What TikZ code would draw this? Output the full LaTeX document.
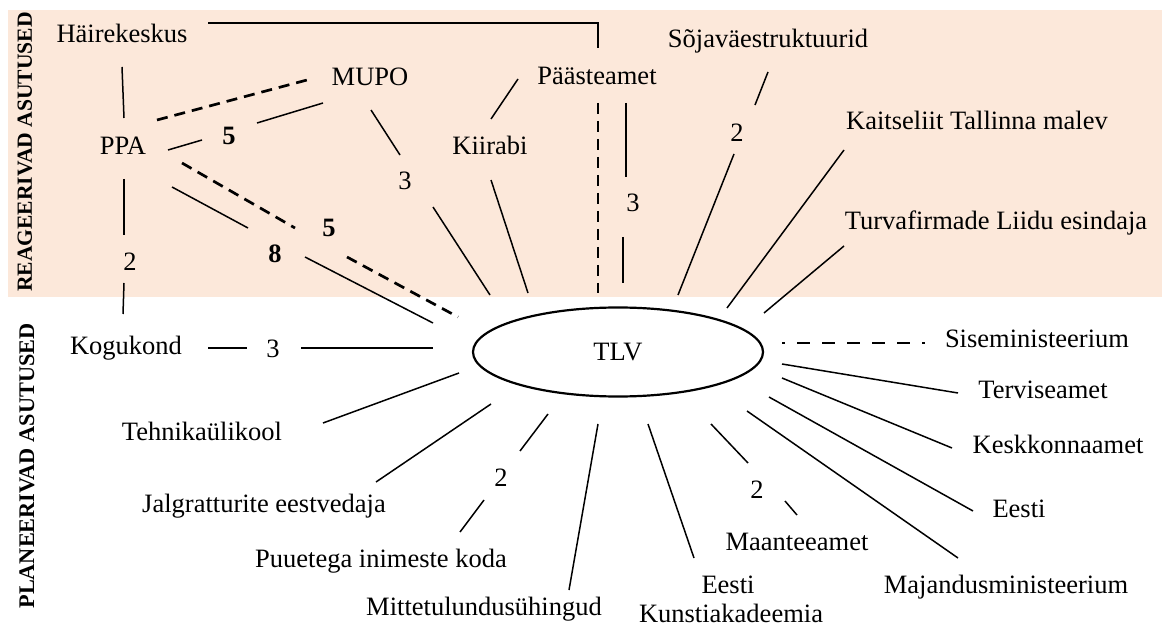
\documentclass[tikz,border=0pt]{standalone}
\usepackage{fontspec}
\setmainfont{Liberation Serif}
\usetikzlibrary{shapes.geometric}
\definecolor{peach}{RGB}{252,232,218}
\begin{document}
\begin{tikzpicture}[x=1pt,y=-1pt,
  lbl/.style={font=\fontsize{26.5}{30}\selectfont, inner sep=0pt, anchor=base},
  num/.style={font=\fontsize{26.5}{30}\selectfont, inner sep=0pt},
  bnum/.style={font=\fontsize{26.5}{30}\selectfont\bfseries, inner sep=0pt},
  link/.style={line width=1.5pt},
  dlink/.style={line width=2.7pt, dash pattern=on 11pt off 7pt},
  side/.style={font=\bfseries, rotate=90, inner sep=0pt}]
\useasboundingbox (0,0) rectangle (1162,628);
\fill[peach] (8,10) rectangle (1162,297);

% side titles
\node[side] (reag) at (25,152) {\fontsize{21.6}{24}\selectfont REAGEERIVAD ASUTUSED};
\node[side] (plan) at (27,466) {\fontsize{22.3}{24}\selectfont PLANEERIVAD ASUTUSED};

% central node
\node[draw, ellipse, line width=2.2pt, minimum width=290pt, minimum height=89pt, inner sep=0pt,
      font=\fontsize{26.5}{30}\selectfont] (tlv) at (618,352) {TLV};

% actor nodes
\node[lbl] (hk)   at (122,43)  {Häirekeskus};
\node[lbl] (mupo) at (370,86)  {MUPO};
\node[lbl] (ppa)  at (123,155) {PPA};
\node[lbl] (kii)  at (490,155) {Kiirabi};
\node[lbl] (paa)  at (597,85)  {Päästeamet};
\node[lbl] (soj)  at (768,48)  {Sõjaväestruktuurid};
\node[lbl] (kait) at (977,130) {Kaitseliit Tallinna malev};
\node[lbl] (turv) at (996,230) {Turvafirmade Liidu esindaja};
\node[lbl] (kog)  at (126,355) {Kogukond};
\node[lbl] (tehn) at (202,440) {Tehnikaülikool};
\node[lbl] (jalg) at (264,512) {Jalgratturite eestvedaja};
\node[lbl] (puu)  at (381,567) {Puuetega inimeste koda};
\node[lbl] (mitt) at (484,615) {Mittetulundusühingud};
\node[lbl] (eka1) at (728,593) {Eesti};
\node[lbl] (eka2) at (731,622) {Kunstiakadeemia};
\node[lbl] (maan) at (797,550) {Maanteeamet};
\node[lbl] (maj)  at (1006,593) {Majandusministeerium};
\node[lbl] (sise) at (1037,348) {Siseministeerium};
\node[lbl] (terv) at (1043,398) {Terviseamet};
\node[lbl] (kesk) at (1058,453) {Keskkonnaamet};
\node[lbl] (eest) at (1019,517) {Eesti};

% weight labels
\node[bnum] (w-pm)  at (229,136) {5};
\node[num]  (w-mt)  at (405,181) {3};
\node[num]  (w-pk)  at (130,262) {2};
\node[bnum] (w-pt5) at (329,228) {5};
\node[bnum] (w-pt8) at (275,254) {8};
\node[num]  (w-at)  at (633,203) {3};
\node[num]  (w-st)  at (737,133) {2};
\node[num]  (w-kt)  at (273,349) {3};
\node[num]  (w-pu)  at (501,478) {2};
\node[num]  (w-ma)  at (757,490) {2};

% connector end points
\coordinate (hkA) at (122,67);   \coordinate (ppaA) at (124,118);
\coordinate (ppaB) at (124,179); \coordinate (pkA) at (124,235);
\coordinate (pkB) at (124,283);  \coordinate (kogA) at (123,314);
\coordinate (hkB) at (208,23);   \coordinate (paaA) at (598,48);
\coordinate (ppaC) at (157,120); \coordinate (mupoA) at (307,80);
\coordinate (ppaD) at (168,150); \coordinate (pmA) at (202,140);
\coordinate (pmB) at (257,123);  \coordinate (mupoB) at (323,103);
\coordinate (mupoC) at (371,110);\coordinate (mtA) at (400,155);
\coordinate (mtB) at (433,207);  \coordinate (tlvA) at (490,295);
\coordinate (ppaE) at (182,163); \coordinate (pt5A) at (295,228);
\coordinate (pt5B) at (347,257); \coordinate (tlvB) at (458,317);
\coordinate (ppaF) at (172,187); \coordinate (pt8A) at (248,228);
\coordinate (pt8B) at (305,257); \coordinate (tlvC) at (433,323);
\coordinate (kiiA) at (491,119); \coordinate (paaB) at (518,79);
\coordinate (kiiB) at (491,180); \coordinate (tlvD) at (528,293);
\coordinate (paaC) at (598,103); \coordinate (tlvE) at (598,293);
\coordinate (paaD) at (626,103); \coordinate (atA) at (626,177);
\coordinate (atB) at (623,237);  \coordinate (tlvF) at (623,283);
\coordinate (sojA) at (768,72);  \coordinate (stA) at (755,105);
\coordinate (stB) at (734,154);  \coordinate (tlvG) at (678,295);
\coordinate (kaitA) at (844,150);\coordinate (tlvH) at (727,308);
\coordinate (turvA) at (844,246);\coordinate (tlvI) at (764,313);
\coordinate (tlvJ) at (782,343); \coordinate (siseA) at (925,343);
\coordinate (kogB) at (208,348); \coordinate (ktA) at (247,348);
\coordinate (ktB) at (301,348);  \coordinate (tlvK) at (433,348);
\coordinate (tehnA) at (323,423);\coordinate (tlvL) at (459,373);
\coordinate (jalgA) at (376,482);\coordinate (tlvM) at (491,404);
\coordinate (tlvN) at (548,414); \coordinate (puA) at (520,451);
\coordinate (puB) at (484,500);  \coordinate (puuA) at (460,532);
\coordinate (tlvO) at (598,424); \coordinate (mittA) at (569,590);
\coordinate (tlvP) at (648,424); \coordinate (ekaA) at (694,558);
\coordinate (tlvQ) at (711,424); \coordinate (maA) at (748,463);
\coordinate (maB) at (785,501);  \coordinate (maanA) at (797,515);
\coordinate (tlvR) at (747,411); \coordinate (majA) at (958,558);
\coordinate (tlvS) at (769,397); \coordinate (eestA) at (973,511);
\coordinate (tlvT) at (782,378); \coordinate (keskA) at (952,448);
\coordinate (tlvU) at (782,364); \coordinate (tervA) at (958,393);

% connectors
\draw[link] (hkA) -- (ppaA);
\draw[link] (ppaB) -- (pkA);
\draw[link] (pkB) -- (kogA);
\draw[link] (hkB) -| (paaA);
\draw[dlink] (ppaC) -- (mupoA);
\draw[link] (ppaD) -- (pmA);
\draw[link] (pmB) -- (mupoB);
\draw[link] (mupoC) -- (mtA);
\draw[link] (mtB) -- (tlvA);
\draw[dlink] (ppaE) -- (pt5A);
\draw[dlink] (pt5B) -- (tlvB);
\draw[link] (ppaF) -- (pt8A);
\draw[link] (pt8B) -- (tlvC);
\draw[link] (kiiA) -- (paaB);
\draw[link] (kiiB) -- (tlvD);
\draw[dlink] (paaC) -- (tlvE);
\draw[link] (paaD) -- (atA);
\draw[link] (atB) -- (tlvF);
\draw[link] (sojA) -- (stA);
\draw[link] (stB) -- (tlvG);
\draw[link] (kaitA) -- (tlvH);
\draw[link] (turvA) -- (tlvI);
\draw[line width=2.7pt, dash pattern=on 13pt off 12pt, dash phase=10pt] (tlvJ) -- (siseA);
\draw[link] (kogB) -- (ktA);
\draw[link] (ktB) -- (tlvK);
\draw[link] (tehnA) -- (tlvL);
\draw[link] (jalgA) -- (tlvM);
\draw[link] (tlvN) -- (puA);
\draw[link] (puB) -- (puuA);
\draw[link] (tlvO) -- (mittA);
\draw[link] (tlvP) -- (ekaA);
\draw[link] (tlvQ) -- (maA);
\draw[link] (maB) -- (maanA);
\draw[link] (tlvR) -- (majA);
\draw[link] (tlvS) -- (eestA);
\draw[link] (tlvT) -- (keskA);
\draw[link] (tlvU) -- (tervA);
\end{tikzpicture}
\end{document}
